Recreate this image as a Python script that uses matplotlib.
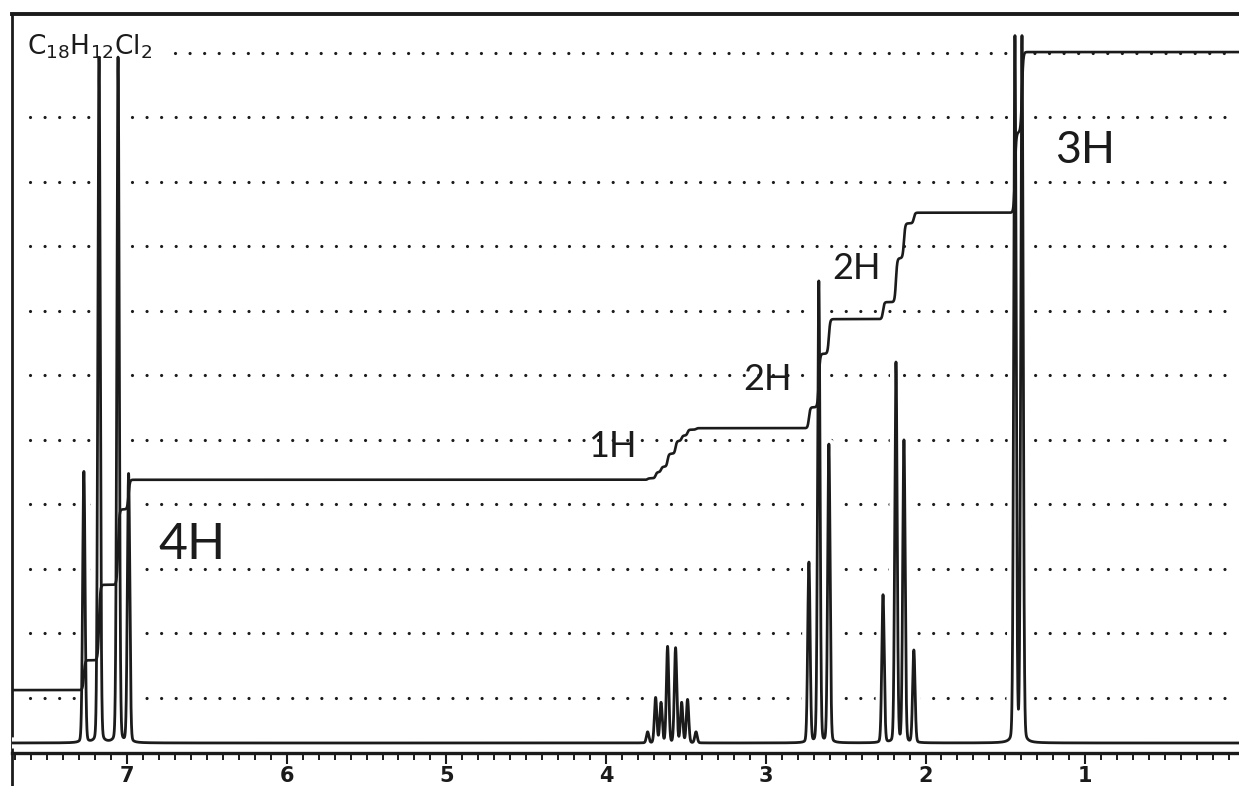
import matplotlib.pyplot as plt
import matplotlib.patheffects as pe
import numpy as np
from matplotlib.lines import Line2D
from matplotlib.ticker import MultipleLocator

INK = "#1b1b1b"

# peak positions (ppm) and heights (in chart divisions above the baseline)
AROMATIC_PPM = [7.27, 7.175, 7.056, 6.99]
AROMATIC_H = [4.20, 10.62, 10.62, 4.16]
METHINE_PPM = [3.740, 3.690, 3.656, 3.615, 3.565, 3.527, 3.490, 3.437]
METHINE_H = [0.17, 0.70, 0.62, 1.49, 1.47, 0.62, 0.67, 0.17]
TRIPLET_PPM = [2.730, 2.668, 2.605]
TRIPLET_H = [2.79, 7.15, 4.62]
QUARTET_PPM = [2.266, 2.185, 2.135, 2.073]
QUARTET_H = [2.29, 5.89, 4.68, 1.43]
DOUBLET_PPM = [1.44, 1.396]
DOUBLET_H = [10.93, 10.93]

# integral trace level before the first group and after each group
INTEGRAL_LEVELS = [0.82, 4.08, 4.88, 6.57, 8.22, 10.71]
INTEGRAL_LABELS = ["4H", "1H", "2H", "2H", "3H"]

FORMULA = r"C$_{18}$H$_{12}$Cl$_2$"
X_TICKS = [1, 2, 3, 4, 5, 6, 7]

GROUPS = [
    (AROMATIC_PPM, AROMATIC_H),
    (METHINE_PPM, METHINE_H),
    (TRIPLET_PPM, TRIPLET_H),
    (QUARTET_PPM, QUARTET_H),
    (DOUBLET_PPM, DOUBLET_H),
]

ppm = np.linspace(7.72, 0.037, 40000)


def line_shape(center, height):
    g = np.exp(-0.5 * ((ppm - center) / 0.0075) ** 2)
    lor = 1 / (1 + ((ppm - center) / 0.009) ** 2)
    return height * (0.92 * g + 0.08 * lor)


spectrum = np.zeros_like(ppm)
integral = np.full_like(ppm, INTEGRAL_LEVELS[0])
for i, (pos, hts) in enumerate(GROUPS):
    rise = INTEGRAL_LEVELS[i + 1] - INTEGRAL_LEVELS[i]
    share = np.array(hts) / sum(hts)
    for p, h, s in zip(pos, hts, share):
        spectrum += line_shape(p, h)
        integral += rise * s * 0.5 * (1 + np.tanh((p - ppm) / 0.008))

fig = plt.figure(figsize=(12.39, 7.86), dpi=100)
ax = fig.add_axes([12 / 1239, 33 / 786, 1227 / 1239, 739 / 786])
ax.set_xlim(7.72, 0.037)
ax.set_ylim(-0.155, 11.30)

# dotted chart-paper rules
for k in range(11):
    x0 = 6.70 if k == 10 else 7.607
    ax.plot([x0, 0.08], [0.70 + k, 0.70 + k], color=INK, lw=2.3,
            ls=(0, (0.01, 4.55)), dash_capstyle="round", zorder=1)

ax.plot(ppm, spectrum, color=INK, lw=2.0, zorder=3,
        path_effects=[pe.Stroke(linewidth=8, foreground="white"), pe.Normal()])
ax.plot(ppm, integral, color=INK, lw=1.9, zorder=4)

ax.text(7.625, 10.67, FORMULA, fontsize=19, color=INK, ha="left",
        va="baseline", zorder=5)

label_pos = [(6.59, 3.07, 36), (3.96, 4.59, 26), (2.99, 5.63, 26),
             (2.435, 7.36, 26), (1.0, 9.19, 32)]
for lab, (x, y, fs) in zip(INTEGRAL_LABELS, label_pos):
    ax.text(x, y, lab, fontsize=fs, family="Lato", fontweight="normal",
            color=INK, ha="center", va="center", zorder=5)

ax.spines["right"].set_visible(False)
ax.spines["top"].set_linewidth(2.8)
ax.spines["left"].set_linewidth(2.0)
ax.spines["bottom"].set_linewidth(2.4)
for s in ax.spines.values():
    s.set_color(INK)

ax.set_yticks([])
ax.set_xticks(X_TICKS)
ax.xaxis.set_minor_locator(MultipleLocator(0.1))
ax.tick_params(axis="x", which="major", length=8, width=1.5, direction="out",
               pad=1.5, labelsize=15, colors=INK)
ax.tick_params(axis="x", which="minor", length=5, width=1.4, direction="out",
               colors=INK)
for t in ax.get_xticklabels():
    t.set_fontweight("bold")

fig.add_artist(Line2D([12 / 1239, 12 / 1239], [0, 33 / 786], color=INK, lw=2.0))

fig.savefig("out.png", dpi=100)
